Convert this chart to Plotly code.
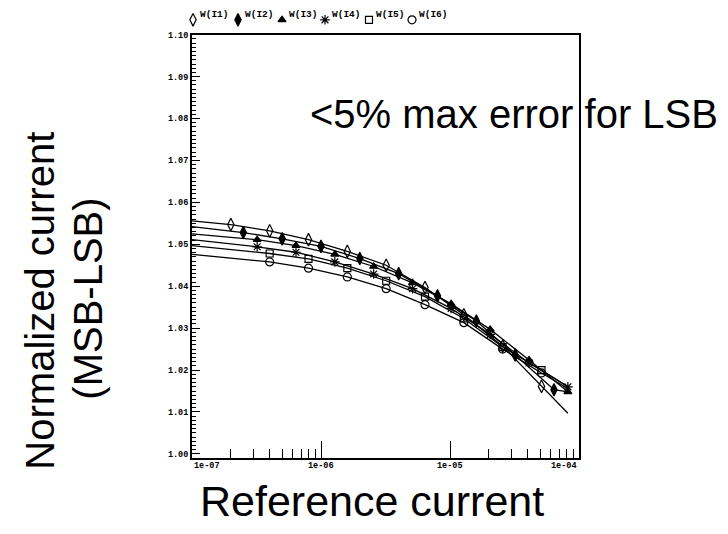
import math
import plotly.graph_objects as go

# ---- axis ticks ----
x_tick_vals = [1e-7, 1e-6, 1e-5, 1e-4]
x_tick_text = ["1e-07", "1e-06", "1e-05", "1e-04"]
x_minor_vals = [2e-7, 3e-7, 4e-7, 5e-7, 6e-7, 7e-7, 8e-7, 9e-7,
                2e-5, 3e-5, 4e-5, 5e-5, 6e-5, 7e-5, 8e-5, 9e-5]

# ---- simulated weights: reference current (A) vs normalized current ----
series_names = ["W(I1)", "W(I2)", "W(I3)", "W(I4)", "W(I5)", "W(I6)"]

w1_x = [1e-7, 2e-7, 4e-7, 8e-7, 1.6e-6, 3.2e-6, 6.4e-6, 1.28e-5, 2.56e-5, 5.12e-5, 8.2e-5]
w1_y = [1.0556, 1.0547, 1.0532, 1.0511, 1.0483, 1.0450, 1.0397, 1.0332, 1.0257, 1.0161, 1.0097]

w2_x = [1e-7, 2.5e-7, 5e-7, 1e-6, 2e-6, 4e-6, 8e-6, 1.6e-5, 3.2e-5, 6.4e-5, 8.2e-5]
w2_y = [1.0542, 1.0528, 1.0513, 1.0495, 1.0466, 1.0430, 1.0377, 1.0317, 1.0236, 1.0153, 1.0148]

w3_x = [1e-7, 3.2e-7, 6.4e-7, 1.28e-6, 2.56e-6, 5.12e-6, 1.02e-5, 2.05e-5, 4.1e-5, 8.2e-5]
w3_y = [1.0525, 1.0511, 1.0497, 1.0476, 1.0447, 1.0408, 1.0358, 1.0297, 1.0224, 1.0148]

w4_x = [1e-7, 3.2e-7, 6.4e-7, 1.28e-6, 2.56e-6, 5.12e-6, 1.02e-5, 2.05e-5, 4.1e-5, 8.2e-5]
w4_y = [1.0511, 1.0494, 1.0481, 1.0458, 1.0429, 1.0394, 1.0347, 1.0285, 1.0217, 1.0160]

w5_x = [1e-7, 4e-7, 8e-7, 1.6e-6, 3.2e-6, 6.4e-6, 1.28e-5, 2.56e-5, 5.12e-5, 8.2e-5]
w5_y = [1.0497, 1.0478, 1.0465, 1.0443, 1.0413, 1.0375, 1.0323, 1.0255, 1.0200, 1.0160]

w6_x = [1e-7, 4e-7, 8e-7, 1.6e-6, 3.2e-6, 6.4e-6, 1.28e-5, 2.56e-5, 5.12e-5, 8.2e-5]
w6_y = [1.0476, 1.0458, 1.0443, 1.0422, 1.0394, 1.0356, 1.0313, 1.0250, 1.0193, 1.0156]

all_x = [w1_x, w2_x, w3_x, w4_x, w5_x, w6_x]
all_y = [w1_y, w2_y, w3_y, w4_y, w5_y, w6_y]
# the first sweep point carries no symbol; I3/I4 also mark the last point
marked = [slice(1, -1), slice(1, -1), slice(1, None), slice(1, None), slice(1, -1), slice(1, -1)]

symbols = ["diamond-tall-open", "diamond-tall", "triangle-up",
           "asterisk-open", "square-open", "circle-open"]
sizes = [9, 9, 7, 8, 7, 8]

# ---- page geometry (pixels) ----
W, H = 728, 534
L, R, T, B = 192, 579, 31, 459

MONO = "Liberation Mono"
SANS = "Liberation Sans"

fig = go.Figure()

for name, xs, ys, sl, sym, sz in zip(series_names, all_x, all_y, marked, symbols, sizes):
    fig.add_trace(go.Scatter(
        x=xs, y=ys, mode="lines", name=name, showlegend=False,
        line=dict(color="black", width=1.3), hoverinfo="skip"))
    fig.add_trace(go.Scatter(
        x=xs[sl], y=ys[sl], mode="markers", name=name, showlegend=False,
        marker=dict(symbol=sym, size=sz, color="black",
                    line=dict(color="black", width=1.2))))

# key across the top, drawn on a full-page pixel axis
key_x = [193, 238, 282, 325, 369, 412]
for name, sym, sz, kx in zip(series_names, symbols, sizes, key_x):
    fig.add_trace(go.Scatter(
        x=[kx], y=[16], xaxis="x2", yaxis="y2", mode="markers",
        showlegend=False, hoverinfo="skip",
        marker=dict(symbol=sym, size=sz, color="black",
                    line=dict(color="black", width=1.2))))

annotations = []
for name, kx in zip(series_names, key_x):
    annotations.append(dict(
        x=kx + 5, y=11, xref="x2", yref="y2", text=name, showarrow=False,
        xanchor="left", yanchor="middle",
        font=dict(family=MONO, size=9.5, color="black", weight="bold")))

# x tick labels under the frame: first flush left, last flush right
anchors = ["left", "center", "center", "right"]
for v, t, a in zip(x_tick_vals, x_tick_text, anchors):
    annotations.append(dict(
        x=math.log10(v), y=(H - 467) / H, xref="x", yref="paper",
        text=t, showarrow=False, xanchor=a, yanchor="middle",
        font=dict(family=MONO, size=8.5, color="black", weight="bold")))

annotations += [
    dict(x=308, y=111, xref="x2", yref="y2", text="&lt;5% max error for LSB",
         showarrow=False, xanchor="left", yanchor="middle",
         font=dict(family=SANS, size=40, color="black")),
    dict(x=372, y=503, xref="x2", yref="y2", text="Reference current",
         showarrow=False, xanchor="center", yanchor="middle",
         font=dict(family=SANS, size=43, color="black")),
    dict(x=40, y=300, xref="x2", yref="y2", text="Normalized current",
         showarrow=False, textangle=-90, xanchor="center", yanchor="middle",
         font=dict(family=SANS, size=40, color="black")),
    dict(x=88, y=298, xref="x2", yref="y2", text="(MSB-LSB)",
         showarrow=False, textangle=-90, xanchor="center", yanchor="middle",
         font=dict(family=SANS, size=40, color="black")),
]

fig.update_layout(
    width=W, height=H,
    margin=dict(l=0, r=0, t=0, b=0, pad=0),
    paper_bgcolor="white", plot_bgcolor="rgba(0,0,0,0)",
    showlegend=False,
    annotations=annotations,
    xaxis=dict(
        domain=[L / W, R / W], anchor="y",
        type="log", range=[-7, -4],
        tickmode="array", tickvals=x_tick_vals, showticklabels=False,
        ticks="inside", ticklen=17, tickwidth=1.3, tickcolor="black",
        minor=dict(tickmode="array", tickvals=x_minor_vals, ticks="inside",
                   ticklen=9, tickwidth=1.3, tickcolor="black", showgrid=False),
        showgrid=False, zeroline=False,
        showline=True, linecolor="black", linewidth=2, mirror=True,
    ),
    yaxis=dict(
        domain=[(H - B) / H, (H - T) / H], anchor="x",
        range=[1 - 4 / 4240, 1.1],
        tickmode="linear", tick0=1.0, dtick=0.01, tickformat=".2f",
        ticks="inside", ticklen=8, tickwidth=1.3, tickcolor="black",
        minor=dict(dtick=0.001, ticks="inside", ticklen=4, tickwidth=1,
                   tickcolor="black", showgrid=False),
        tickfont=dict(family=MONO, size=8.5, color="black", weight="bold"),
        showgrid=False, zeroline=False,
        showline=True, linecolor="black", linewidth=2, mirror=True,
    ),
    xaxis2=dict(domain=[0, 1], range=[0, W], visible=False, anchor="y2"),
    yaxis2=dict(domain=[0, 1], range=[H, 0], visible=False, anchor="x2"),
)

fig.write_html("out.html")
